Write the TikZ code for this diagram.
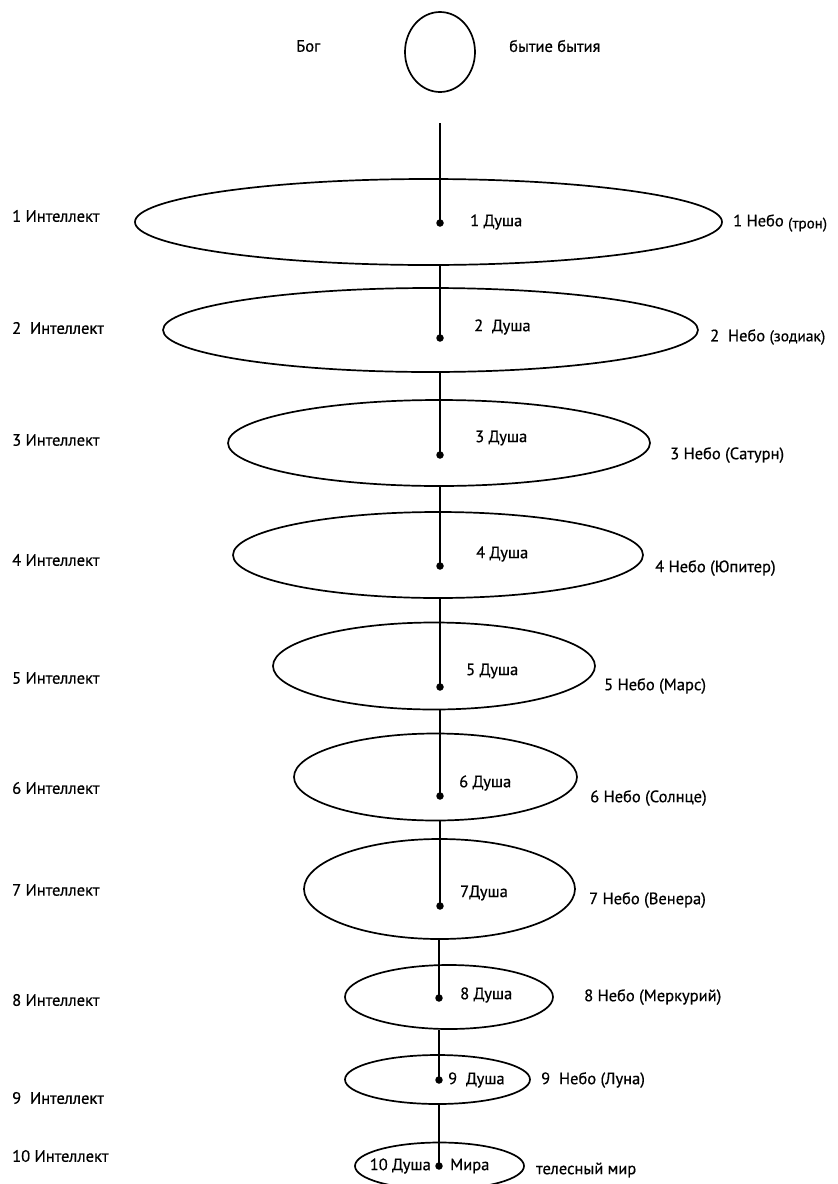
\documentclass[tikz,border=0pt]{standalone}
\usepackage{fontspec}
\setmainfont{PT Sans}
\newfontfamily\lblfont{PT Sans}[FakeBold=0.6]
\usetikzlibrary{shapes.geometric}
\begin{document}
\begin{tikzpicture}[x=1pt,y=-1pt,
  orb/.style={draw,ellipse,line width=1.7pt,inner sep=0pt},
  lbl/.style={anchor=west,font=\lblfont\fontsize{16.5}{18}\selectfont,inner sep=0pt},
  dotpt/.style={circle,fill,inner sep=0pt,minimum size=7.5pt},
  axis/.style={line width=1.6pt}]
\useasboundingbox (0,0) rectangle (838,1184);
% God
\node[orb,minimum width=70pt,minimum height=80pt] (god) at (440,52) {};
\node[lbl] (bog) at (296,46) {Бог};
\node[lbl] (bb) at (509,46) {бытие бытия};
\coordinate (top) at (440,123);
% spheres
\node[orb,minimum width=587pt,minimum height=86pt] (e1) at (428.5,222) {};
\node[orb,minimum width=535pt,minimum height=84pt] (e2) at (430.5,330) {};
\node[orb,minimum width=422pt,minimum height=86pt] (e3) at (439,443) {};
\node[orb,minimum width=410pt,minimum height=86pt] (e4) at (438,555) {};
\node[orb,minimum width=322pt,minimum height=87pt] (e5) at (434,666) {};
\node[orb,minimum width=283pt,minimum height=87pt] (e6) at (435.5,777) {};
\node[orb,minimum width=271pt,minimum height=100pt] (e7) at (439.5,889) {};
\node[orb,minimum width=208pt,minimum height=64pt] (e8) at (449,997) {};
\node[orb,minimum width=185pt,minimum height=49pt] (e9) at (437.5,1079.5) {};
\node[orb,minimum width=169pt,minimum height=47pt] (e10) at (439.5,1166) {};
% dots
\node[dotpt] (d1) at (440,223) {};
\node[dotpt] (d2) at (440,338) {};
\node[dotpt] (d3) at (440,455) {};
\node[dotpt] (d4) at (440,566) {};
\node[dotpt] (d5) at (440,687) {};
\node[dotpt] (d6) at (440,796) {};
\node[dotpt] (d7) at (440,906) {};
\node[dotpt] (d8) at (439,998) {};
\node[dotpt] (d9) at (439,1080) {};
\node[dotpt] (d10) at (439,1166) {};
% axis
\draw[axis] (top) -- (d1.center);
\draw[axis] (d2.center |- e1.south) -- (d2.center);
\draw[axis] (d3.center |- e2.south) -- (d3.center);
\draw[axis] (d4.center |- e3.south) -- (d4.center);
\draw[axis] (d5.center |- e4.south) -- (d5.center);
\draw[axis] (d6.center |- e5.south) -- (d6.center);
\draw[axis] (d7.center |- e6.south) -- (d7.center);
\draw[axis] (d8.center |- e7.south) -- (d8.center);
\draw[axis] (d9.center |- e8.south) -- (d9.center);
\draw[axis] (d10.center |- e9.south) -- (d10.center);
% left labels
\node[lbl] (i1) at (12,216) {1 Интеллект};
\node[lbl] (i2) at (12,328) {2~ Интеллект};
\node[lbl] (i3) at (12,440) {3 Интеллект};
\node[lbl] (i4) at (12,560) {4 Интеллект};
\node[lbl] (i5) at (12,678) {5 Интеллект};
\node[lbl] (i6) at (12,788) {6 Интеллект};
\node[lbl] (i7) at (12,890) {7 Интеллект};
\node[lbl] (i8) at (12,1000) {8 Интеллект};
\node[lbl] (i9) at (12,1098) {9~ Интеллект};
\node[lbl] (i10) at (12,1156) {10 Интеллект};
% souls
\node[lbl] (s1) at (470,222) {1 Душа};
\node[lbl] (s2) at (474,327) {2~ Душа};
\node[lbl] (s3) at (475,438) {3 Душа};
\node[lbl] (s4) at (476,554) {4 Душа};
\node[lbl] (s5) at (466,671) {5 Душа};
\node[lbl] (s6) at (459,783) {6 Душа};
\node[lbl] (s7) at (460,893) {7Душа};
\node[lbl] (s8) at (460,995) {8 Душа};
\node[lbl] (s9) at (448,1080) {9~ Душа};
\node[lbl,anchor=east] (s10) at (431,1166) {10 Душа};
\node[lbl] (m10) at (450,1166) {Мира};
% heavens
\node[lbl] (h1) at (733,223) {1 Небо \raisebox{-2pt}{\fontsize{15}{17}\selectfont(трон)}};
\node[lbl] (h2) at (710,337) {2~ Небо {\fontsize{15.5}{17}\selectfont(зодиак)}};
\node[lbl] (h3) at (670,455) {3 Небо (Сатурн)};
\node[lbl] (h4) at (655,568) {4 Небо (Юпитер)};
\node[lbl] (h5) at (604,686) {5 Небо (Марс)};
\node[lbl] (h6) at (590,798) {6 Небо (Солнце)};
\node[lbl] (h7) at (589,900) {7 Небо (Венера)};
\node[lbl] (h8) at (584,997) {8 Небо (Меркурий)};
\node[lbl] (h9) at (541,1080) {9~ Небо (Луна)};
\node[lbl] (h10) at (536,1170) {телесный мир};
\end{tikzpicture}
\end{document}
